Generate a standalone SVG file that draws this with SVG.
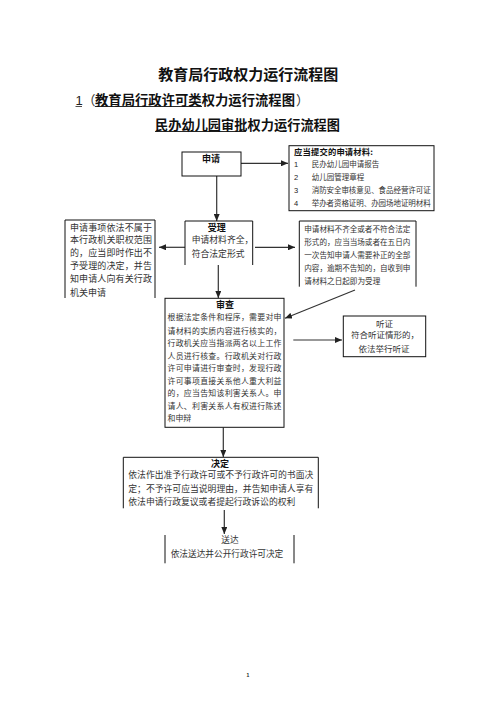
<svg xmlns="http://www.w3.org/2000/svg" width="496" height="702" viewBox="0 0 496 702">
<style>
.h{font-family:"Noto Sans CJK SC","Liberation Sans",sans-serif;font-weight:bold;fill:#111}
.t{font-family:"Noto Sans CJK SC","Liberation Sans",sans-serif;fill:#333}
.n{font-family:"Liberation Sans",sans-serif;fill:#222}
.b{fill:none;stroke:#111;stroke-width:1}
.c{fill:none;stroke:#333;stroke-width:1.2}
</style>
<defs>
<marker id="ah" markerUnits="userSpaceOnUse" markerWidth="7" markerHeight="6" refX="7" refY="3" orient="auto">
<path d="M0,0 L7,3 L0,6 z" fill="#222"/>
</marker>
</defs>
<rect width="496" height="702" fill="#fff"/>
<g id="titles">
<text class="h" x="158.3" y="79.5" font-size="15" textLength="180">教育局行政权力运行流程图</text>
<text class="n" x="75.5" y="105" font-size="13">1</text>
<line x1="75.5" y1="106.5" x2="82" y2="106.5" stroke="#222" stroke-width="0.8"/>
<text class="t" x="82.5" y="105" font-size="13">（</text>
<text class="h" x="95" y="105" font-size="13.3" textLength="200">教育局行政许可类权力运行流程图</text>
<line x1="95" y1="106.5" x2="202" y2="106.5" stroke="#111" stroke-width="0.9"/>
<text class="t" x="296" y="105" font-size="13">）</text>
<text class="h" x="155" y="130" font-size="13.2" textLength="185">民办幼儿园审批权力运行流程图</text>
<line x1="155" y1="131.5" x2="246" y2="131.5" stroke="#111" stroke-width="0.9"/>
</g>
<g id="connectors">
<line class="c" x1="241" y1="163.3" x2="288" y2="163.3" marker-end="url(#ah)"/>
<line class="c" x1="216.7" y1="176" x2="216.7" y2="221" marker-end="url(#ah)"/>
<line class="c" x1="185" y1="247.3" x2="159" y2="247.3" marker-end="url(#ah)"/>
<line class="c" x1="255" y1="247.3" x2="295" y2="247.3" marker-end="url(#ah)"/>
<line class="c" x1="218.3" y1="265" x2="218.3" y2="298" marker-end="url(#ah)"/>
<line class="c" x1="355" y1="290" x2="285" y2="318.3" marker-end="url(#ah)"/>
<line class="c" x1="293.3" y1="340" x2="342" y2="340" marker-end="url(#ah)"/>
<line class="c" x1="223.3" y1="427.5" x2="223.3" y2="457" marker-end="url(#ah)"/>
<line class="c" x1="224.3" y1="510" x2="224.3" y2="534" marker-end="url(#ah)"/>
</g>
<g id="apply">
<rect class="b" x="182" y="152" width="59" height="24"/>
<text class="h" x="211" y="161.7" font-size="9" text-anchor="middle">申请</text>
</g>
<g id="materials">
<rect class="b" x="289" y="145.7" width="145" height="65"/>
<text class="h" x="294" y="154.8" font-size="8.3" textLength="79">应当提交的申请材料:</text>
<text class="n" x="294" y="166.8" font-size="7.5">1</text>
<text class="t" x="311.7" y="166.8" font-size="7.5">民办幼儿园申请报告</text>
<text class="n" x="294" y="179.5" font-size="7.5">2</text>
<text class="t" x="311.7" y="179.5" font-size="7.5">幼儿园管理章程</text>
<text class="n" x="294" y="192.8" font-size="7.5">3</text>
<text class="t" x="311.7" y="192.8" font-size="7.5" textLength="119">消防安全审核意见、食品经营许可证</text>
<text class="n" x="294" y="206" font-size="7.5">4</text>
<text class="t" x="311.7" y="206" font-size="7.5" textLength="119">举办者资格证明、办园场地证明材料</text>
</g>
<g id="accept">
<path class="b" d="M185,265 V221 H252.7 V265"/>
<text class="h" x="216.7" y="230.7" font-size="9" text-anchor="middle">受理</text>
<text class="t" x="191.7" y="243.3" font-size="8.8">申请材料齐全，</text>
<text class="t" x="191.7" y="256.6" font-size="8.8">符合法定形式</text>
</g>
<g id="reject">
<path class="b" d="M65,298 V220 H155 V298"/>
<text class="t" x="70" y="230.7" font-size="9" textLength="82">申请事项依法不属于</text>
<text class="t" x="70" y="243.4" font-size="9" textLength="82">本行政机关职权范围</text>
<text class="t" x="70" y="256" font-size="9" textLength="82">的，应当即时作出不</text>
<text class="t" x="70" y="269" font-size="9" textLength="82">予受理的决定，并告</text>
<text class="t" x="70" y="282.4" font-size="9" textLength="82">知申请人向有关行政</text>
<text class="t" x="70" y="295.7" font-size="9">机关申请</text>
</g>
<g id="incomplete">
<path class="b" d="M299.3,286.7 V221 H416 V286.7"/>
<text class="t" x="304.3" y="232.2" font-size="7.6" textLength="106">申请材料不齐全或者不符合法定</text>
<text class="t" x="304.3" y="244.6" font-size="7.6" textLength="106">形式的，应当当场或者在五日内</text>
<text class="t" x="304.3" y="257.9" font-size="7.6" textLength="106">一次告知申请人需要补正的全部</text>
<text class="t" x="304.3" y="271.2" font-size="7.6" textLength="106">内容，逾期不告知的，自收到申</text>
<text class="t" x="304.3" y="283.6" font-size="7.6">请材料之日起即为受理</text>
</g>
<g id="review">
<rect class="b" x="165" y="298.3" width="119" height="129"/>
<text class="h" x="225" y="308.4" font-size="9" text-anchor="middle">审查</text>
<text class="t" x="167.5" y="320.3" font-size="7.9" textLength="114">根据法定条件和程序，需要对申</text>
<text class="t" x="167.5" y="333.7" font-size="7.9" textLength="114">请材料的实质内容进行核实的，</text>
<text class="t" x="167.5" y="346.3" font-size="7.9" textLength="114">行政机关应当指派两名以上工作</text>
<text class="t" x="167.5" y="358.7" font-size="7.9" textLength="114">人员进行核查。行政机关对行政</text>
<text class="t" x="167.5" y="371.3" font-size="7.9" textLength="114">许可申请进行审查时，发现行政</text>
<text class="t" x="167.5" y="383.7" font-size="7.9" textLength="114">许可事项直接关系他人重大利益</text>
<text class="t" x="167.5" y="396.3" font-size="7.9" textLength="114">的，应当告知该利害关系人。申</text>
<text class="t" x="167.5" y="409" font-size="7.9" textLength="114">请人、利害关系人有权进行陈述</text>
<text class="t" x="167.5" y="421.3" font-size="7.9">和申辩</text>
</g>
<g id="hearing">
<rect class="b" x="343.3" y="316" width="82.4" height="40.7"/>
<text class="t" x="384.5" y="326.5" font-size="8.5" text-anchor="middle">听证</text>
<text class="t" x="385" y="338.3" font-size="8.5" text-anchor="middle">符合听证情形的，</text>
<text class="t" x="384" y="351.6" font-size="8.5" text-anchor="middle">依法举行听证</text>
</g>
<g id="decision">
<path class="b" d="M123.3,508.3 V457.3 H318.3 V508.3"/>
<text class="h" x="220" y="466.7" font-size="9" text-anchor="middle">决定</text>
<text class="t" x="128.3" y="478.3" font-size="8.8" textLength="185">依法作出准予行政许可或不予行政许可的书面决</text>
<text class="t" x="128.3" y="492.3" font-size="8.8" textLength="185">定；不予许可应当说明理由，并告知申请人享有</text>
<text class="t" x="128.3" y="505" font-size="8.8" textLength="167">依法申请行政复议或者提起行政诉讼的权利</text>
</g>
<g id="deliver">
<line class="b" x1="165" y1="535" x2="165" y2="563.3"/>
<line class="b" x1="294" y1="535" x2="294" y2="563.3"/>
<text class="t" x="230" y="543.3" font-size="8.7" text-anchor="middle">送达</text>
<text class="t" x="170.7" y="556.6" font-size="8.7" textLength="112.6">依法送达并公开行政许可决定</text>
</g>
<g id="page">
<text class="n" x="248" y="677" font-size="5" font-weight="bold" text-anchor="middle">1</text>
</g>
</svg>
